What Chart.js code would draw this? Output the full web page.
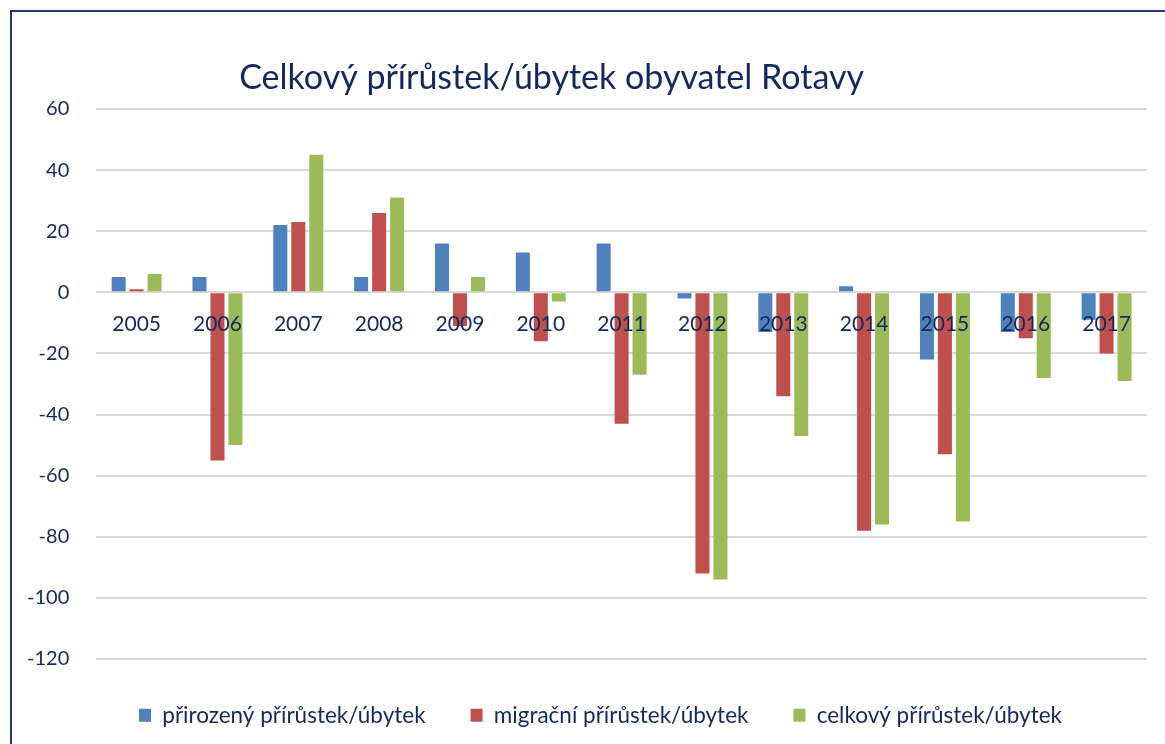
<!DOCTYPE html>
<html lang="cs">
<head>
<meta charset="utf-8">
<title>Celkový přírůstek/úbytek obyvatel Rotavy</title>
<script src="https://cdn.jsdelivr.net/npm/chart.js@4/dist/chart.umd.min.js"></script>
<style>
    html, body { margin: 0; padding: 0; background: #fff; overflow: hidden; }
    #frame {
        position: absolute;
        left: 10px;
        top: 10px;
        width: 1153px;
        height: 732px;
        border-left: 2px solid #1f3b73;
        border-top: 2px solid #1f3b73;
    }
</style>
</head>
<body>
<div id="frame">
    <canvas id="populationChart" width="1153" height="732"></canvas>
</div>
<script>
"use strict"

//Data
const years = ["2005", "2006", "2007", "2008", "2009", "2010", "2011", "2012", "2013", "2014", "2015", "2016", "2017"];
const natural = [5, 5, 22, 5, 16, 13, 16, -2, -13, 2, -22, -13, -9];
const migration = [1, -55, 23, 26, -11, -16, -43, -92, -34, -78, -53, -15, -20];
const total = [6, -50, 45, 31, 5, -3, -27, -94, -47, -76, -75, -28, -29];
const seriesNames = ["přirozený přírůstek/úbytek", "migrační přírůstek/úbytek", "celkový přírůstek/úbytek"];
const chartTitle = "Celkový přírůstek/úbytek obyvatel Rotavy";

const navy = "#13295e";
const gridGrey = "#d9d9d9";
const fontFamily = "Lato, 'Open Sans', sans-serif";

//Title drawn a bit left of centre like in the original
const titlePlugin = {
    id: "sideTitle",
    afterDraw(chart) {
        const ctx = chart.ctx;
        ctx.save();
        ctx.font = "34px " + fontFamily;
        ctx.fillStyle = navy;
        ctx.textAlign = "center";
        ctx.textBaseline = "middle";
        ctx.fillText(chartTitle, chart.width * 0.468, 66);
        ctx.restore();
    }
};

//Legend keeps wide gaps between items but not the extra height,
//and sits a little right of the canvas centre
const legendFit = {
    id: "legendFit",
    afterInit(chart) {
        const legend = chart.legend;
        const origFit = legend.fit;
        const origDraw = legend.draw;
        legend.fit = function () {
            origFit.call(this);
            this.height = 85;
        };
        legend.draw = function () {
            const ctx = this.ctx;
            ctx.save();
            ctx.translate(27, 0);
            origDraw.call(this);
            ctx.restore();
        };
    }
};

const canvas = document.getElementById("populationChart");

new Chart(canvas, {
    type: "bar",
    data: {
        labels: years,
        datasets: [
            { label: seriesNames[0], data: natural, backgroundColor: "#4f81bd" },
            { label: seriesNames[1], data: migration, backgroundColor: "#c0504d" },
            { label: seriesNames[2], data: total, backgroundColor: "#9bbb59" }
        ]
    },
    options: {
        responsive: false,
        animation: false,
        categoryPercentage: 0.667,
        barPercentage: 0.78,
        layout: {
            padding: { top: 97, left: -12, right: 18, bottom: 0 }
        },
        scales: {
            x: {
                position: { y: 0 },
                grid: { display: false },
                border: { display: false },
                ticks: {
                    z: 1,
                    color: navy,
                    padding: 11,
                    font: { family: fontFamily, size: 21 }
                }
            },
            y: {
                min: -120,
                max: 60,
                grid: { color: gridGrey, lineWidth: 2, drawTicks: false },
                border: { display: false },
                ticks: {
                    stepSize: 20,
                    color: navy,
                    padding: 27,
                    font: { family: fontFamily, size: 20 }
                }
            }
        },
        plugins: {
            title: { display: false },
            tooltip: { enabled: false },
            legend: {
                position: "bottom",
                labels: {
                    color: navy,
                    boxWidth: 12,
                    boxHeight: 13,
                    padding: 45,
                    font: { family: fontFamily, size: 22.5 }
                }
            }
        }
    },
    plugins: [titlePlugin, legendFit]
});
</script>
</body>
</html>
